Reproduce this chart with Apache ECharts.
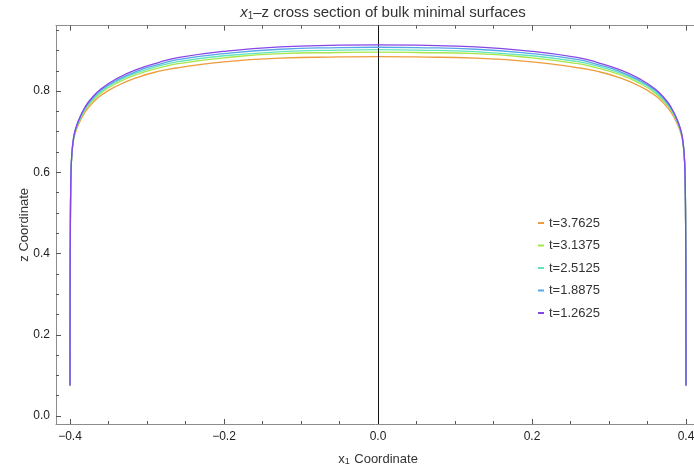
<!DOCTYPE html>
<html>
<head>
<meta charset="utf-8">
<script src="https://cdn.jsdelivr.net/npm/echarts@6/dist/echarts.min.js"></script>
<style>html,body{margin:0;padding:0;background:#fff}#c{width:694px;height:466px}</style>
</head>
<body>
<div id="c"></div>
<script>
// ---- data ----
const xs = [-0.4, -0.3999, -0.3995, -0.3991, -0.3987, -0.3978, -0.3957, -0.393, -0.388, -0.381, -0.374, -0.36, -0.34, -0.312, -0.284, -0.258, -0.2, -0.127, -0.05, 0,
            0.05, 0.127, 0.2, 0.258, 0.284, 0.312, 0.34, 0.36, 0.374, 0.381, 0.388, 0.393, 0.3957, 0.3978, 0.3987, 0.3991, 0.3995, 0.3999, 0.4];
const zOrange = [0.075, 0.30, 0.48, 0.557, 0.597, 0.637, 0.676, 0.698, 0.722, 0.747, 0.764, 0.789, 0.812, 0.834, 0.849, 0.858, 0.872, 0.881, 0.884, 0.885,
                 0.884, 0.881, 0.872, 0.858, 0.849, 0.834, 0.812, 0.789, 0.764, 0.747, 0.722, 0.698, 0.676, 0.637, 0.597, 0.557, 0.48, 0.30, 0.075];
const zGreen = [0.075, 0.30, 0.48, 0.557, 0.598, 0.638, 0.678, 0.701, 0.726, 0.752, 0.769, 0.795, 0.819, 0.842, 0.857, 0.868, 0.882, 0.892, 0.895, 0.896,
                0.895, 0.892, 0.882, 0.868, 0.857, 0.842, 0.819, 0.795, 0.769, 0.752, 0.726, 0.701, 0.678, 0.638, 0.598, 0.557, 0.48, 0.30, 0.075];
const zCyan = [0.075, 0.30, 0.48, 0.558, 0.598, 0.639, 0.679, 0.703, 0.728, 0.754, 0.772, 0.798, 0.823, 0.846, 0.862, 0.873, 0.887, 0.897, 0.901, 0.902,
               0.901, 0.897, 0.887, 0.873, 0.862, 0.846, 0.823, 0.798, 0.772, 0.754, 0.728, 0.703, 0.679, 0.639, 0.598, 0.558, 0.48, 0.30, 0.075];
const zBlue = [0.075, 0.30, 0.48, 0.558, 0.599, 0.639, 0.680, 0.704, 0.730, 0.757, 0.775, 0.802, 0.826, 0.850, 0.866, 0.878, 0.892, 0.903, 0.907, 0.908,
               0.907, 0.903, 0.892, 0.878, 0.866, 0.850, 0.826, 0.802, 0.775, 0.757, 0.730, 0.704, 0.680, 0.639, 0.599, 0.558, 0.48, 0.30, 0.075];
const zPurple = [0.075, 0.30, 0.48, 0.558, 0.599, 0.640, 0.681, 0.706, 0.732, 0.759, 0.778, 0.805, 0.830, 0.854, 0.871, 0.883, 0.898, 0.909, 0.913, 0.914,
                 0.913, 0.909, 0.898, 0.883, 0.871, 0.854, 0.830, 0.805, 0.778, 0.759, 0.732, 0.706, 0.681, 0.640, 0.599, 0.558, 0.48, 0.30, 0.075];
const seriesNames = ['t=3.7625', 't=3.1375', 't=2.5125', 't=1.8875', 't=1.2625'];
const xTicks = [-0.4, -0.2, 0, 0.2, 0.4];
const xMinorTicks = [-0.35, -0.3, -0.25, -0.15, -0.1, -0.05, 0.05, 0.1, 0.15, 0.25, 0.3, 0.35];
const yTicks = [0, 0.2, 0.4, 0.6, 0.8];
const yMinorTicks = [0.05, 0.1, 0.15, 0.25, 0.3, 0.35, 0.45, 0.5, 0.55, 0.65, 0.7, 0.75, 0.85, 0.9, 0.95];

// ---- chart ----
const colors = ['#EE9C3C', '#A9E64C', '#62E6BA', '#58A6EA', '#8646E6'];
const zs = [zOrange, zGreen, zCyan, zBlue, zPurple];
const FONT = 'Liberation Sans';
const XMIN = -0.4182, XMAX = 0.4182, YMIN = -0.0197, YMAX = 0.961;
const fmt = v => (v < 0 ? '\u2212' : '') + Math.abs(v).toFixed(1);
const tickCol = '#555';
const frameCol = '#8c8c8c';

function xAx(pos, values, len, labels, line) {
  return {
    type: 'value', position: pos, min: XMIN, max: XMAX,
    axisLine: { show: !!line, onZero: false, lineStyle: { color: frameCol, width: 1 } },
    splitLine: { show: false },
    axisTick: { show: true, inside: true, length: len, customValues: values, lineStyle: { color: tickCol, width: 1 } },
    axisLabel: labels ? { show: true, customValues: values, formatter: fmt, color: '#222', fontFamily: FONT, fontSize: 12, margin: 7, hideOverlap: false } : { show: false }
  };
}
function yAx(pos, values, len, labels, line) {
  return {
    type: 'value', position: pos, min: YMIN, max: YMAX,
    axisLine: { show: !!line, onZero: false, lineStyle: { color: frameCol, width: 1 } },
    splitLine: { show: false },
    axisTick: { show: true, inside: true, length: len, customValues: values, lineStyle: { color: tickCol, width: 1 } },
    axisLabel: labels ? { show: true, customValues: values, formatter: v => v.toFixed(1), color: '#222', fontFamily: FONT, fontSize: 12, margin: 6 } : { show: false }
  };
}

const xAxes = [xAx('bottom', xTicks, 5, true, true), xAx('bottom', xMinorTicks, 3, false), xAx('top', xTicks, 5, false, true), xAx('top', xMinorTicks, 3, false)];
Object.assign(xAxes[0], {
  name: '{n|x}{s|1}{n| Coordinate}', nameLocation: 'middle', nameGap: 27.5, nameMoveOverlap: false,
  nameTextStyle: { rich: { n: { fontFamily: FONT, fontSize: 13, color: '#333' }, s: { fontFamily: FONT, fontSize: 9, color: '#333', padding: [6, 1, 0, 0] } } }
});
const yAxes = [yAx('left', yTicks, 5, true, true), yAx('left', yMinorTicks, 3, false)];
Object.assign(yAxes[0], {
  name: 'z Coordinate', nameLocation: 'middle', nameGap: 25, nameMoveOverlap: false,
  nameTextStyle: { fontFamily: FONT, fontSize: 13, color: '#333' }
});

const series = seriesNames.map((n, i) => ({
  name: n, type: 'line', xAxisIndex: 0, yAxisIndex: 0,
  data: xs.map((x, k) => [x, zs[i][k]]),
  symbol: 'none', showSymbol: false, smooth: 0.5,
  lineStyle: { color: colors[i], width: 1.3 }, itemStyle: { color: colors[i] },
  silent: true, animation: false, z: 2 + i
}));
series.push({
  type: 'line', xAxisIndex: 0, yAxisIndex: 0, data: [], z: 10, silent: true, animation: false,
  markLine: { silent: true, symbol: ['none', 'none'], label: { show: false }, animation: false,
    lineStyle: { color: '#111', width: 1, type: 'solid' }, data: [{ xAxis: 0 }] }
});

const chart = echarts.init(document.getElementById('c'), null, { renderer: 'canvas' });
chart.setOption({
  animation: false,
  backgroundColor: '#fff',
  title: {
    text: '{i|x}{s|1}{n|\u2013z cross section of bulk minimal surfaces}',
    left: 378, top: 0, textAlign: 'center',
    textStyle: { fontWeight: 'normal', fontSize: 15, rich: {
      i: { fontFamily: FONT, fontSize: 15, fontStyle: 'italic', fontWeight: 'normal', color: '#333' },
      s: { fontFamily: FONT, fontSize: 10, fontWeight: 'normal', color: '#333', padding: [6, 0, 0, 0] },
      n: { fontFamily: FONT, fontSize: 15, fontWeight: 'normal', color: '#333' }
    } }
  },
  legend: {
    data: seriesNames, orient: 'vertical', left: 533, top: 211,
    itemWidth: 6, itemHeight: 14, itemGap: 8.5,
    icon: 'path://M0,0 L6,0 L6,2 L0,2 Z',
    textStyle: { fontFamily: FONT, fontSize: 13, color: '#333', lineHeight: 14 },
    selectedMode: false
  },
  grid: { left: 56, right: -6, top: 25.7, bottom: 42, show: false, outerBoundsMode: 'none', containLabel: false },
  xAxis: xAxes,
  yAxis: yAxes,
  series: series
});
</script>
</body>
</html>
